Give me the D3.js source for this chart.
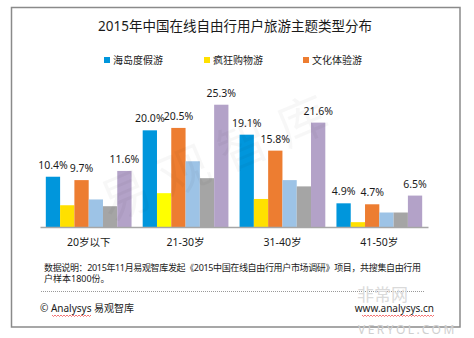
<!DOCTYPE html>
<html>
<head>
<meta charset="utf-8">
<script src="https://cdn.jsdelivr.net/npm/d3@7"></script>
<style>
  body { margin: 0; background: #fff; }
  text { font-family: "Noto Sans", "Noto Sans CJK SC", sans-serif; fill: #1a1a1a; }
</style>
</head>
<body>
<div id="chart"></div>
<script>
const WIDTH = 474;
const HEIGHT = 338;

// age groups on the x axis
const groups = ["20岁以下", "21-30岁", "31-40岁", "41-50岁"];

// legend entries (only the first three are shown in the legend row)
const legendNames = ["海岛度假游", "疯狂购物游", "文化体验游"];

// percentage per theme, one array per series, in group order
const islandValues = [10.4, 20.0, 19.1, 4.9];
const shoppingValues = [4.5, 7.0, 5.8, 1.0];
const cultureValues = [9.7, 20.5, 15.8, 4.7];
const fourthValues = [5.7, 13.6, 9.7, 3.0];
const fifthValues = [4.3, 10.1, 8.4, 3.0];
const sixthValues = [11.6, 25.3, 21.6, 6.5];

const series = [islandValues, shoppingValues, cultureValues, fourthValues, fifthValues, sixthValues];
const colors = ["#0096dc", "#ffe000", "#ed7d31", "#9dc3e6", "#a5a5a5", "#b3a2c8"];
// series that get a value label on top
const labelled = [0, 2, 5];

const svg = d3.select("#chart")
  .append("svg")
  .attr("width", WIDTH)
  .attr("height", HEIGHT);

svg.append("rect")
  .attr("width", WIDTH)
  .attr("height", HEIGHT)
  .attr("fill", "#fff");

// outer frame
svg.append("rect")
  .attr("x", 11.5)
  .attr("y", 7.5)
  .attr("width", 448.5)
  .attr("height", 319.5)
  .attr("fill", "none")
  .attr("stroke", "#8a8a8a")
  .attr("stroke-width", 1.5);

svg.append("text")
  .attr("x", 235)
  .attr("y", 31)
  .attr("text-anchor", "middle")
  .style("font-size", "13.5px")
  .text("2015年中国在线自由行用户旅游主题类型分布");

// legend
const legendX = [104, 204, 303];
const legend = svg.append("g")
  .selectAll("g")
  .data(legendNames)
  .join("g")
  .attr("transform", (d, i) => "translate(" + legendX[i] + ",57)");

legend.append("rect")
  .attr("width", 6)
  .attr("height", 6)
  .attr("fill", (d, i) => colors[i]);

legend.append("text")
  .attr("x", 9)
  .attr("y", 7)
  .style("font-size", "10px")
  .text(d => d);

// scales
const x = d3.scaleBand()
  .domain(groups)
  .range([40, 428])
  .paddingInner(0.115)
  .paddingOuter(0.06);

const xInner = d3.scaleBand()
  .domain(d3.range(series.length))
  .range([0, x.bandwidth()]);

const y = d3.scaleLinear()
  .domain([0, 30])
  .range([227, 82]);

const bars = [];
series.forEach((vals, s) => {
  vals.forEach((v, g) => bars.push({ s, g, v }));
});

svg.append("g")
  .selectAll("rect")
  .data(bars)
  .join("rect")
  .attr("x", d => x(groups[d.g]) + xInner(d.s))
  .attr("y", d => y(d.v))
  .attr("width", xInner.bandwidth())
  .attr("height", d => y(0) - y(d.v))
  // the 21-30 shopping bar is a brighter yellow
  .attr("fill", d => (d.s === 1 && d.g === 1 ? "#ffff00" : colors[d.s]));

svg.append("g")
  .selectAll("text")
  .data(bars.filter(d => labelled.includes(d.s)))
  .join("text")
  .attr("x", d => x(groups[d.g]) + xInner(d.s) + xInner.bandwidth() / 2)
  .attr("y", d => y(d.v) - 8)
  .attr("text-anchor", "middle")
  .style("font-size", "10.5px")
  .text(d => d.v.toFixed(1) + "%");

// x axis
const xAxis = svg.append("g")
  .attr("transform", "translate(0," + y(0) + ")")
  .call(d3.axisBottom(x).tickSize(0).tickPadding(12).tickSizeOuter(0));

xAxis.select(".domain")
  .attr("stroke", "#a6a6a6")
  .attr("stroke-width", 1.5);

xAxis.selectAll("text")
  .style("font-size", "10.5px")
  .style("font-family", "'Noto Sans', 'Noto Sans CJK SC', sans-serif")
  .attr("fill", "#1a1a1a");

// faint brand mark across the plot
svg.append("text")
  .attr("transform", "translate(222,160) rotate(-23)")
  .attr("text-anchor", "middle")
  .attr("dominant-baseline", "middle")
  .style("font-size", "50px")
  .style("letter-spacing", "14px")
  .style("fill", "#000")
  .style("fill-opacity", 0.03)
  .text("易观智库");

// footnote
const note = svg.append("g").style("font-size", "9px");
note.append("text")
  .attr("x", 44)
  .attr("y", 270.5)
  .attr("textLength", 377)
  .text("数据说明：2015年11月易观智库发起《2015中国在线自由行用户市场调研》项目，共搜集自由行用");
note.append("text")
  .attr("x", 44)
  .attr("y", 281.5)
  .text("户样本1800份。");

svg.append("line")
  .attr("x1", 41)
  .attr("x2", 425)
  .attr("y1", 291.5)
  .attr("y2", 291.5)
  .attr("stroke", "#999")
  .attr("stroke-dasharray", "1,1");

svg.append("text")
  .attr("x", 40)
  .attr("y", 312)
  .style("font-size", "10px")
  .text("© Analysys 易观智库");

// site stamp in the lower right corner, behind the url
svg.append("text")
  .attr("x", 357)
  .attr("y", 301)
  .style("font-size", "17px")
  .style("fill", "#dadada")
  .text("非常网");

svg.append("text")
  .attr("x", 358)
  .attr("y", 334)
  .style("font-size", "12px")
  .style("letter-spacing", "2.5px")
  .style("fill", "#d0d0d0")
  .text("VERYOL.COM");

svg.append("text")
  .attr("x", 434)
  .attr("y", 312)
  .attr("text-anchor", "end")
  .style("font-size", "10px")
  .text("www.analysys.cn");

// spell-check squiggles under the brand words
function squiggle(x0, x1, yy) {
  const pts = [];
  for (let px = x0, k = 0; px <= x1; px += 1.5, k++) {
    pts.push([px, yy + (k % 2 ? 1 : -0.5)]);
  }
  svg.append("path")
    .attr("d", d3.line()(pts))
    .attr("fill", "none")
    .attr("stroke", "#f05050")
    .attr("stroke-width", 0.8);
}
squiggle(52, 91, 315.5);
squiggle(362, 434, 315.5);
</script>
</body>
</html>
